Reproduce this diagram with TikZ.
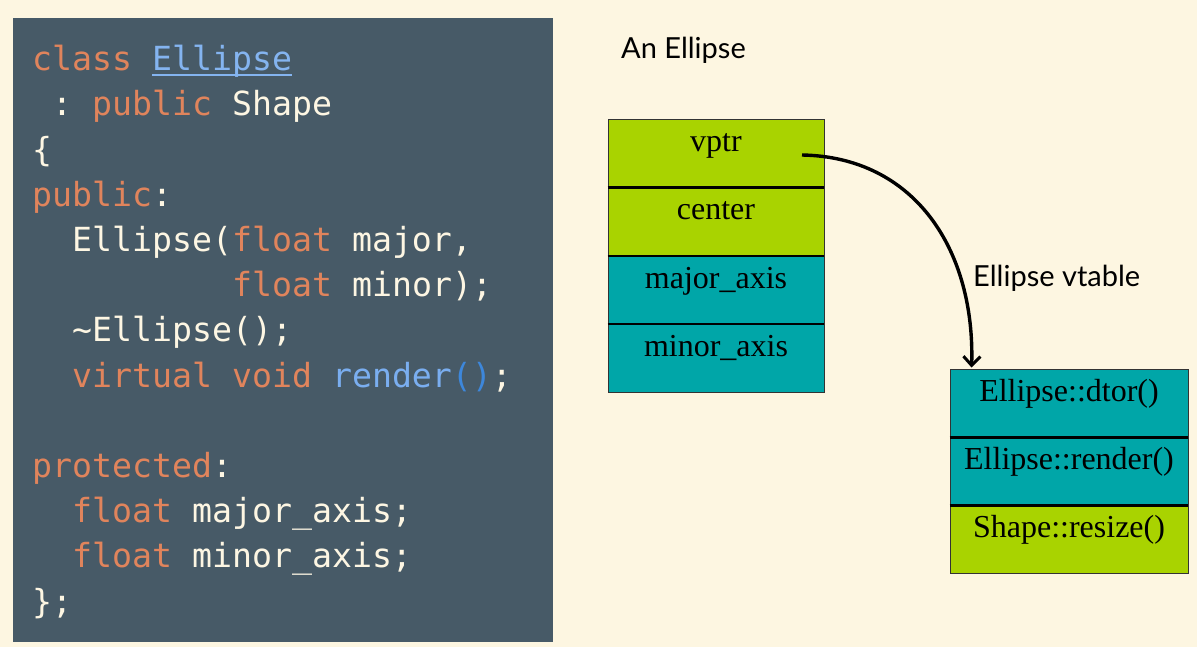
\documentclass[tikz,border=0pt]{standalone}
\usepackage{fontspec}
\usetikzlibrary{arrows.meta}
\newfontfamily\codefont{DejaVu Sans Mono}
\newfontfamily\labelfont{Lato}
\newfontfamily\rowfont{Liberation Serif}
\definecolor{bgcream}{HTML}{FDF6E1}
\definecolor{panel}{HTML}{475A67}
\definecolor{kwcol}{HTML}{E0845C}
\definecolor{txtcol}{HTML}{FDF6E3}
\definecolor{clscol}{HTML}{84B4F0}
\definecolor{fncol}{HTML}{7AAEF0}
\definecolor{parcol}{HTML}{3D87DB}
\definecolor{limecol}{HTML}{A9D300}
\definecolor{tealcol}{HTML}{00A6A8}
\newcommand{\kw}[1]{\textcolor{kwcol}{#1}}
\newcommand{\fn}[1]{\textcolor{fncol}{#1}}
\newcommand{\pr}[1]{\textcolor{parcol}{#1}}
\newcommand{\cls}[1]{\textcolor{clscol}{\rlap{\rule[-5.5pt]{140pt}{2.6pt}}#1}}
\frenchspacing
\begin{document}
\begin{tikzpicture}[x=1pt,y=-1pt,
  code/.style={anchor=base west, inner sep=0pt, text=txtcol,
    font=\codefont\fontsize{33.2}{40}\selectfont\frenchspacing},
  lbl/.style={anchor=base west, inner sep=0pt, font=\labelfont\fontsize{29}{34}\selectfont},
  rowbox/.style={draw=black!80, line width=0.8pt, minimum height=68.25pt, inner sep=0pt},
  objrow/.style={rowbox, minimum width=216pt},
  vtrow/.style={rowbox, minimum width=238pt, minimum height=68pt},
  rowtext/.style={anchor=base, yshift=-33pt, inner sep=0pt, font=\rowfont\fontsize{32}{36}\selectfont},
  divider/.style={line width=2.4pt, black},
  ptr/.style={line width=3.4pt, -{Straight Barb[length=9pt,width=17pt,line width=3pt]}}
]
\useasboundingbox (0,0) rectangle (1197,647);
\fill[bgcream] (0,0) rectangle (1197,647);
\fill[panel] (13,18) rectangle (553,642);

% code lines
\node[code] (c1) at (32,70.7) {\kw{class} \cls{Ellipse}};
\node[code] (c2) at (52,115.9) {: \kw{public} Shape};
\node[code] (c3) at (32,161.1) {\{};
\node[code] (c4) at (32,206.3) {\kw{public}:};
\node[code] (c5) at (72,251.5) {Ellipse(\kw{float} major,};
\node[code] (c6) at (232,296.7) {\kw{float} minor);};
\node[code] (c7) at (72,341.9) {\textasciitilde Ellipse();};
\node[code] (c8) at (72,387.1) {\kw{virtual} \kw{void} \fn{render}\pr{()};};
\node[code] (c10) at (32,477.5) {\kw{protected}:};
\node[code] (c11) at (72,522.7) {\kw{float} major\_axis;};
\node[code] (c12) at (72,567.9) {\kw{float} minor\_axis;};
\node[code] (c13) at (32,613.1) {\};};

% labels
\node[lbl] (objlbl) at (621,59) {An Ellipse};
\node[lbl] (vtlbl) at (973,287) {Ellipse vtable};

% object rows
\node[objrow, fill=limecol, label={[rowtext]north:vptr}] (vptr) at (716,153.1) {};
\node[objrow, fill=limecol, label={[rowtext]north:center}] (center) at (716,221.4) {};
\node[objrow, fill=tealcol, label={[rowtext]north:major\_axis}] (major) at (716,289.6) {};
\node[objrow, fill=tealcol, label={[rowtext]north:minor\_axis}] (minor) at (716,357.9) {};
\draw[divider] (vptr.south west) -- (vptr.south east);
\draw[divider] (center.south west) -- (center.south east);
\draw[divider] (major.south west) -- (major.south east);

% vtable rows
\node[vtrow, fill=tealcol, label={[rowtext]north:Ellipse::dtor()}] (dtor) at (1069,403) {};
\node[vtrow, fill=tealcol, label={[rowtext]north:Ellipse::render()}] (render) at (1069,471) {};
\node[vtrow, fill=limecol, label={[rowtext]north:Shape::resize()}] (resize) at (1069,539) {};
\draw[divider] (dtor.south west) -- (dtor.south east);
\draw[divider] (render.south west) -- (render.south east);

% pointer
\coordinate (ptrstart) at (802,155);
\coordinate (ptrend) at ([xshift=22pt,yshift=1pt]dtor.north west);
\draw[ptr] (ptrstart) .. controls (915,157) and (975,250) .. (ptrend);
\end{tikzpicture}
\end{document}
